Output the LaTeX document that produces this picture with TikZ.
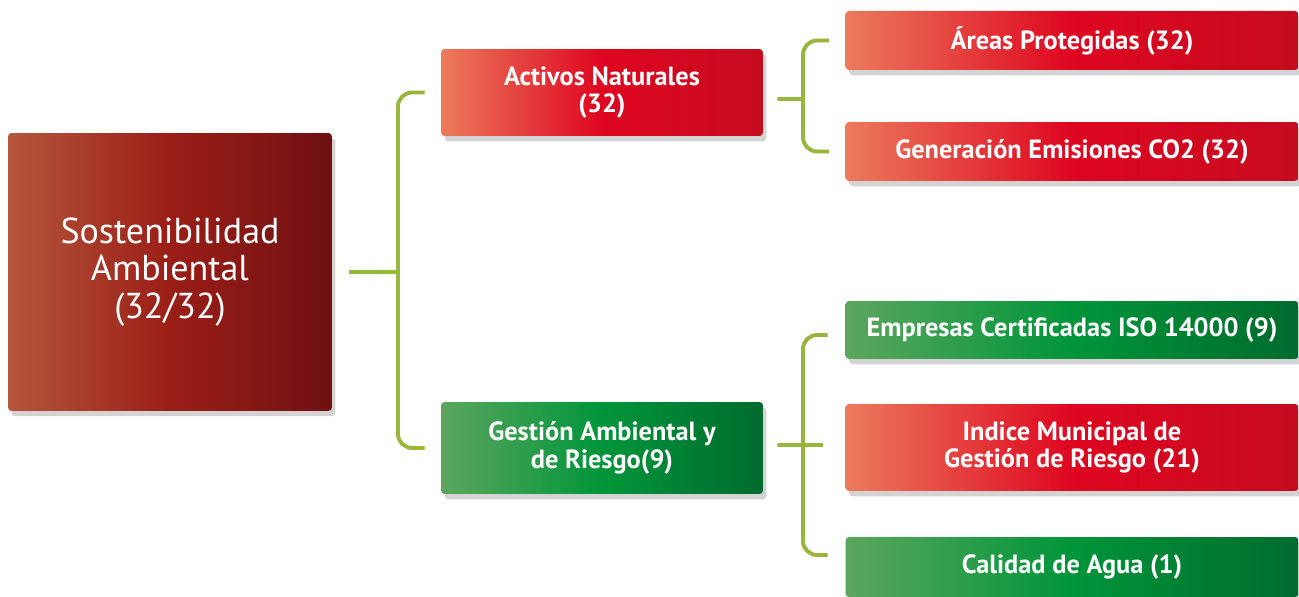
\documentclass[tikz,border=0pt]{standalone}
\usepackage{fontspec}
\setmainfont{PT Sans}
\usetikzlibrary{shadows}

\definecolor{redl}{HTML}{EC7A5C}
\definecolor{redm}{HTML}{DE0620}
\definecolor{redr}{HTML}{C60B1F}
\definecolor{grnl}{HTML}{5CA65E}
\definecolor{grnm}{HTML}{00953A}
\definecolor{grnr}{HTML}{006B2D}
\definecolor{rootl}{HTML}{B5573B}
\definecolor{rootm}{HTML}{9B1E17}
\definecolor{rootr}{HTML}{6F1012}
\definecolor{lnk}{HTML}{97B63B}

\begin{document}
\begin{tikzpicture}[x=0.02cm, y=-0.02cm,
  box/.style={rounded corners=2pt, text=white, align=center, inner sep=0pt,
    drop shadow={shadow xshift=2pt, shadow yshift=-3pt, opacity=0.35}},
  redbox/.style={box, left color=redl, right color=redr, middle color=redm,
    font=\bfseries\fontsize{15}{15.5}\selectfont},
  greenbox/.style={box, left color=grnl, right color=grnr, middle color=grnm,
    font=\bfseries\fontsize{15}{15.5}\selectfont},
  rootbox/.style={box, left color=rootl, right color=rootr, middle color=rootm,
    font=\fontsize{20.5}{21.5}\selectfont},
  link/.style={draw=lnk, line width=2.2pt, rounded corners=8pt}]

\useasboundingbox (0,0) rectangle (1299,597);

\node (root) at (170,272) [rootbox, minimum width=6.48cm, minimum height=5.56cm] {Sostenibilidad\\Ambiental\\(32/32)};

\node (an) at (602,92.5) [redbox, minimum width=6.44cm, minimum height=1.74cm] {Activos Naturales\\(32)};
\node (ga) at (602,448) [greenbox, minimum width=6.44cm, minimum height=1.84cm] {Gestión Ambiental y\\de Riesgo(9)};

\node (ap) at (1072,40.5) [redbox, minimum width=9.06cm, minimum height=1.18cm] {Áreas Protegidas (32)};
\node (ge) at (1072,151.5) [redbox, minimum width=9.06cm, minimum height=1.18cm] {Generación Emisiones CO2 (32)};

\node (ec) at (1072,330) [greenbox, minimum width=9.06cm, minimum height=1.16cm] {Empresas Certificadas ISO 14000 (9)};
\node (im) at (1072,447.5) [redbox, minimum width=9.06cm, minimum height=1.74cm] {Indice Municipal de\\Gestión de Riesgo (21)};
\node (ca) at (1072,567) [greenbox, minimum width=9.06cm, minimum height=1.2cm] {Calidad de Agua (1)};

\coordinate (j1) at (398,272);
\coordinate (j2) at (803,99);
\coordinate (j3) at (803,445);

\draw[link] ([xshift=0.34cm]root.east) -- (j1);
\draw[link] ([xshift=-0.32cm]an.west) -| (j1) |- ([xshift=-0.32cm]ga.west);

\draw[link] ([xshift=0.28cm, yshift=-0.13cm]an.east) -- (j2);
\draw[link] ([xshift=-0.32cm]ap.west) -| (j2) |- ([xshift=-0.32cm]ge.west);

\draw[link] ([xshift=0.28cm, yshift=0.06cm]ga.east) -- ([xshift=0.4cm]j3);
\draw[link] ([xshift=-0.35cm, yshift=-0.1cm]ec.west) -| (j3) |- ([xshift=-0.35cm, yshift=0.24cm]ca.west);
\end{tikzpicture}
\end{document}
